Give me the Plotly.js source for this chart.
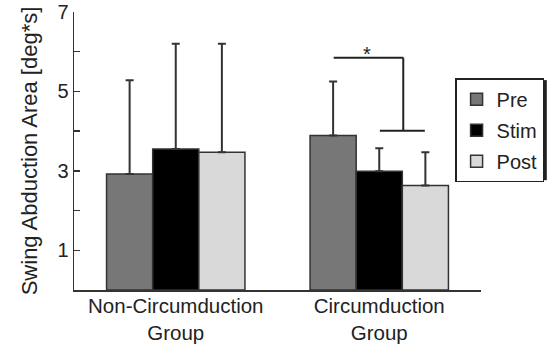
<!DOCTYPE html>
<html>
<head>
<meta charset="utf-8">
<script src="https://cdn.plot.ly/plotly-3.0.1.min.js"></script>
<style>html,body{margin:0;padding:0;background:#fff;}#chart{width:549px;height:346px;}</style>
</head>
<body>
<div id="chart"></div>
<script>
var groups = ['Non-Circumduction<br>Group', 'Circumduction<br>Group'];
var seriesNames = ['Pre', 'Stim', 'Post'];
var preMean = [2.92, 3.89];
var stimMean = [3.55, 2.99];
var postMean = [3.47, 2.63];
var preSD = [2.36, 1.36];
var stimSD = [2.65, 0.58];
var postSD = [2.73, 0.84];
var yTickVals = [1, 2, 3, 4, 5, 6, 7];
var yTickText = ['1', '', '3', '', '5', '', '7'];
// significance bracket (category-index x, data y)
var bracketTopX = [0.776, 1.118];
var bracketTopY = 5.85;
var bracketLowX = [1.003, 1.224];
var bracketLowY = 4.01;
var starPos = [0.938, 5.93];

var colors = ['#777777', '#000000', '#d9d9d9'];
var means = [preMean, stimMean, postMean];
var sds = [preSD, stimSD, postSD];
var font = 'Liberation Sans, Arial, sans-serif';
var ink = '#222';

var traces = seriesNames.map(function(n, i) {
  return {
    type: 'bar', name: n, x: groups, y: means[i],
    legendgroup: n,
    marker: {color: colors[i], line: {color: '#333', width: 1.5}},
    error_y: {type: 'data', symmetric: false, array: sds[i], arrayminus: [0, 0],
              color: '#333', thickness: 2, width: 4}
  };
});

var layout = {
  width: 549, height: 346,
  margin: {l: 74, r: 68, t: 12, b: 56, autoexpand: false},
  paper_bgcolor: '#fff', plot_bgcolor: '#fff',
  font: {family: font, size: 20, color: ink},
  barmode: 'group', bargap: 0.32, bargroupgap: 0,
  showlegend: true,
  legend: {
    x: 1.155, xanchor: 'right', y: 0.762, yanchor: 'top',
    bordercolor: '#222', borderwidth: 1.5, bgcolor: '#fff',
    font: {family: font, size: 20, color: ink},
    traceorder: 'grouped', tracegroupgap: 2, itemwidth: 30
  },
  xaxis: {
    type: 'category', range: [-0.5, 1.5],
    showline: true, linecolor: '#333', linewidth: 1.5,
    ticks: '', showgrid: false, zeroline: false,
    ticklabelstandoff: -3,
    tickfont: {family: font, size: 20.5, color: ink}
  },
  yaxis: {
    range: [0, 7], showline: true, linecolor: '#333', linewidth: 1.5,
    ticks: 'inside', ticklen: 6, tickwidth: 1.5, tickcolor: '#333',
    tickvals: yTickVals, ticktext: yTickText,
    showgrid: false, zeroline: false,
    tickfont: {family: font, size: 20, color: ink},
    title: {text: 'Swing Abduction Area [deg*s]', font: {family: font, size: 22, color: ink}, standoff: 13}
  },
  shapes: [
    {type: 'line', xref: 'x', yref: 'y', x0: bracketTopX[0], x1: bracketTopX[1], y0: bracketTopY, y1: bracketTopY, line: {color: '#222', width: 2}},
    {type: 'line', xref: 'x', yref: 'y', x0: bracketTopX[1], x1: bracketTopX[1], y0: bracketTopY, y1: bracketLowY, line: {color: '#222', width: 2}},
    {type: 'line', xref: 'x', yref: 'y', x0: bracketLowX[0], x1: bracketLowX[1], y0: bracketLowY, y1: bracketLowY, line: {color: '#222', width: 2}},
    {type: 'line', xref: 'paper', yref: 'paper', x0: 1.158, x1: 1.158, y0: 0.755, y1: 0.395, line: {color: '#222', width: 3}}
  ],
  annotations: [
    {xref: 'x', yref: 'y', x: starPos[0], y: starPos[1], text: '*', showarrow: false,
     yanchor: 'middle', font: {family: font, size: 20, color: ink}}
  ]
};

Plotly.newPlot('chart', traces, layout, {displayModeBar: false, staticPlot: true});
</script>
</body>
</html>
